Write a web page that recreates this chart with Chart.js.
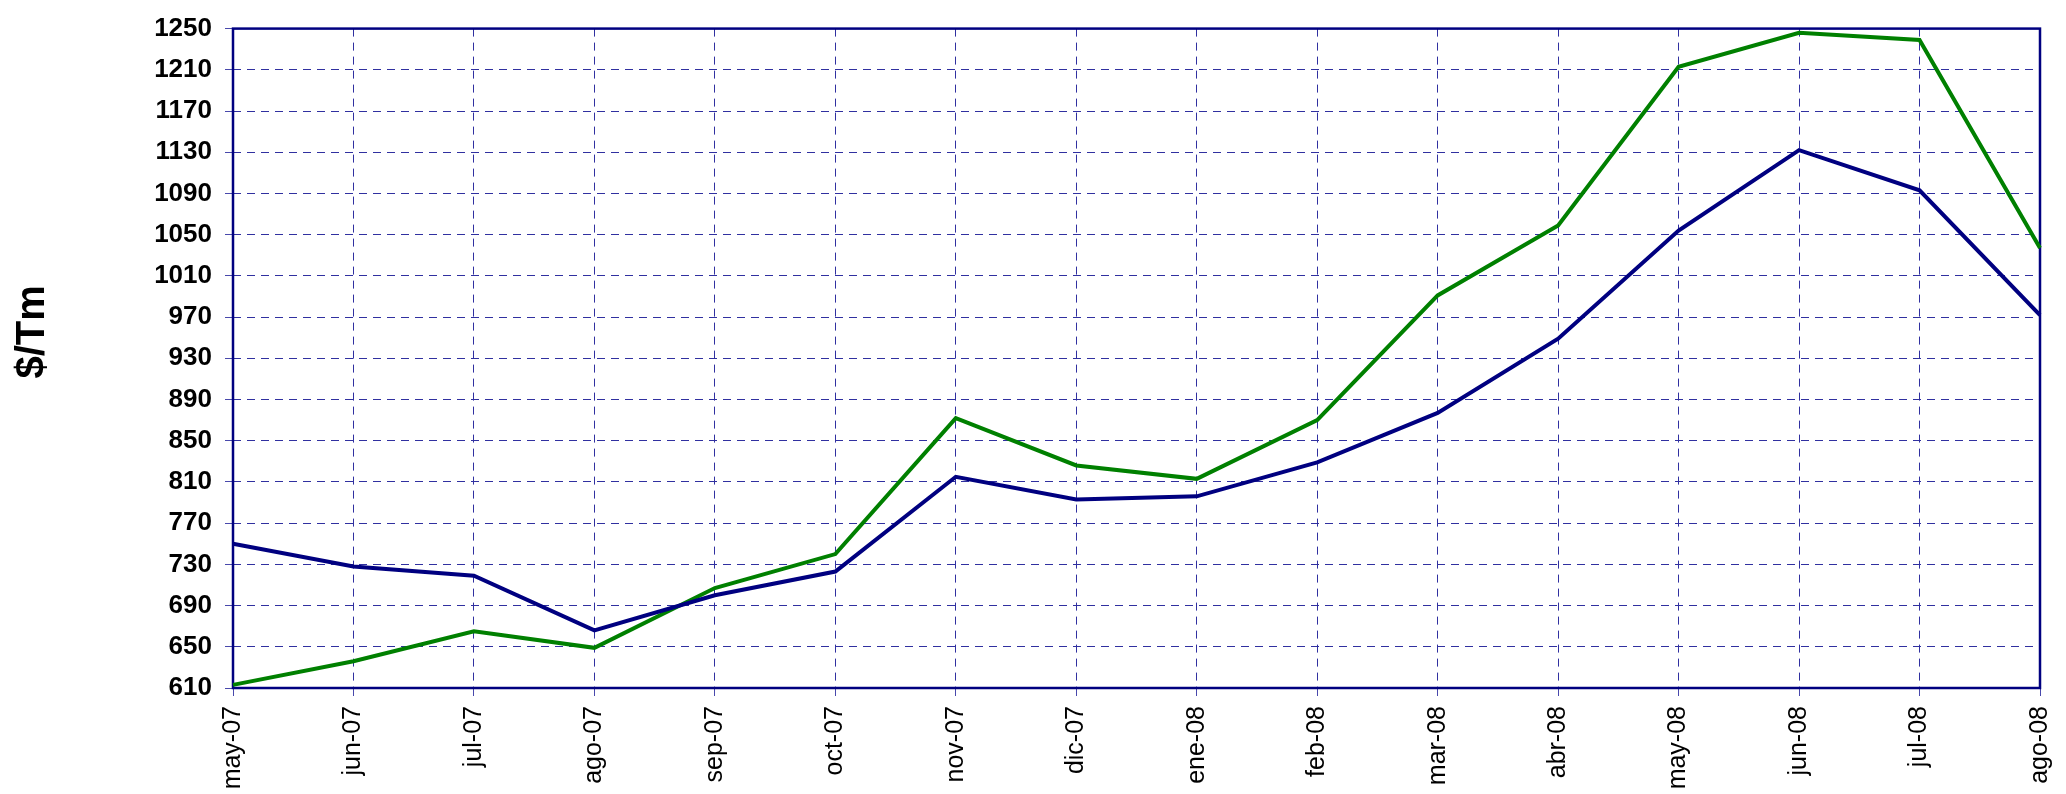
<!DOCTYPE html>
<html>
<head>
<meta charset="utf-8">
<script src="https://cdn.jsdelivr.net/npm/chart.js@4.4.1/dist/chart.umd.min.js"></script>
<style>
  html, body { margin: 0; padding: 0; background: #ffffff; }
  #wrap { width: 2066px; height: 794px; }
</style>
</head>
<body>
<div id="wrap"><canvas id="c" width="2066" height="794"></canvas></div>
<script>
const categories = ["may-07","jun-07","jul-07","ago-07","sep-07","oct-07","nov-07","dic-07","ene-08","feb-08","mar-08","abr-08","may-08","jun-08","jul-08","ago-08"];
const seriesBlue  = [750, 728, 719, 666, 700, 723, 815, 793, 796, 829, 877, 949, 1054, 1132, 1093, 972];
const seriesGreen = [613, 636, 665, 649, 707, 740, 872, 826, 813, 870, 991, 1059, 1213, 1246, 1239, 1037];
const yMin = 610, yMax = 1250, yStep = 40;
const yTitle = "$/Tm";

const frame = {
  id: 'frame',
  beforeDatasetsDraw(chart) {
    const a = chart.chartArea, ctx = chart.ctx;
    ctx.save();
    ctx.strokeStyle = '#000080';
    ctx.lineWidth = 2.5;
    ctx.setLineDash([]);
    ctx.strokeRect(a.left, a.top, a.right - a.left, a.bottom - a.top);
    ctx.restore();
  }
};

// y-axis title, placed where the reference has it (a little above the plot's middle)
const yTitlePlugin = {
  id: 'yTitlePlugin',
  afterDraw(chart) {
    const ctx = chart.ctx, a = chart.chartArea;
    const cy = a.top + (a.bottom - a.top) * 0.46;
    ctx.save();
    ctx.translate(33, cy);
    ctx.rotate(-Math.PI / 2);
    ctx.fillStyle = '#000000';
    ctx.font = 'bold 40px "Liberation Sans", Arial, sans-serif';
    ctx.textAlign = 'center';
    ctx.textBaseline = 'middle';
    ctx.fillText(yTitle, 0, 0);
    ctx.restore();
  }
};

new Chart(document.getElementById('c'), {
  type: 'line',
  data: {
    labels: categories,
    datasets: [
      { data: seriesBlue, borderColor: '#000080', borderWidth: 4, pointRadius: 0, tension: 0, fill: false },
      { data: seriesGreen, borderColor: '#008000', borderWidth: 4, pointRadius: 0, tension: 0, fill: false }
    ]
  },
  options: {
    responsive: false,
    devicePixelRatio: 1,
    animation: false,
    layout: { padding: { left: 0, right: 26, top: 21, bottom: 0 } },
    plugins: { legend: { display: false }, tooltip: { enabled: false } },
    scales: {
      x: {
        offset: false,
        grid: { color: '#3030a0', lineWidth: 1, tickLength: 8, tickColor: '#4848ac', tickBorderDash: [] },
        border: { display: false, dash: [8, 6] },
        ticks: {
          autoSkip: false, maxRotation: 90, minRotation: 90, padding: 10,
          color: '#000000', font: { family: 'Liberation Sans, Arial, sans-serif', size: 25 }
        },
        afterFit(s) { s.height = 106; s.paddingLeft = 0; s.paddingRight = 0; }
      },
      y: {
        min: yMin, max: yMax,
        grid: { color: '#3030a0', lineWidth: 1, tickLength: 8, tickColor: '#4848ac', tickBorderDash: [] },
        border: { display: false, dash: [8, 6] },
        ticks: {
          stepSize: yStep, padding: 13, color: '#000000',
          callback: (v) => String(v),
          font: { family: 'Liberation Sans, Arial, sans-serif', size: 26, weight: 'bold' }
        },
        title: { display: false, text: yTitle },
        afterFit(s) { s.width = 233; }
      }
    }
  },
  plugins: [frame, yTitlePlugin]
});
</script>
</body>
</html>
